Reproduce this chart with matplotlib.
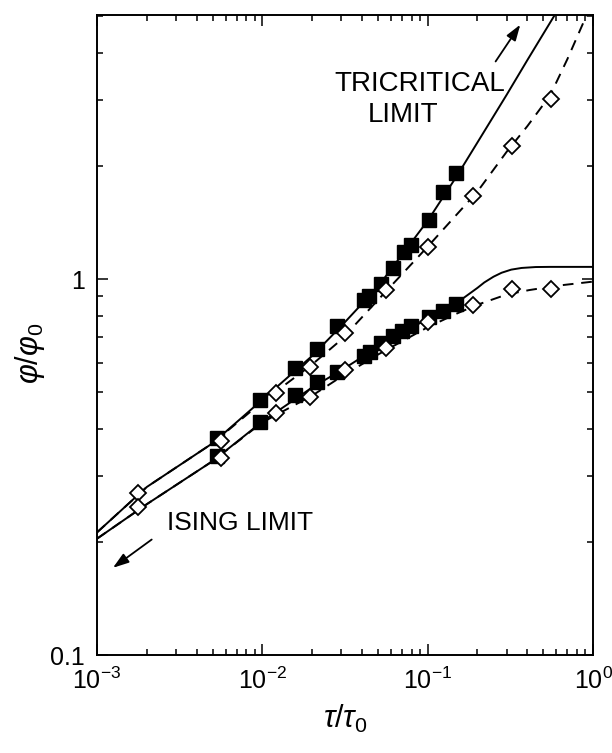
import matplotlib
matplotlib.use("Agg")
import matplotlib.pyplot as plt
from matplotlib.ticker import FixedLocator, NullFormatter, LogLocator

plt.rcParams['font.family'] = ['Liberation Sans', 'DejaVu Sans']
plt.rcParams['mathtext.fontset'] = 'custom'
plt.rcParams['mathtext.rm'] = 'Liberation Sans'
plt.rcParams['mathtext.it'] = 'Liberation Sans:italic'

# filled squares (two branches)
sq_up_x = [0.00535, 0.00973, 0.01567, 0.0214, 0.0282, 0.0414, 0.0440, 0.0523, 0.0614, 0.0720, 0.0793, 0.102, 0.123, 0.149]
sq_up_y = [0.377, 0.477, 0.579, 0.650, 0.751, 0.879, 0.900, 0.970, 1.072, 1.18, 1.23, 1.435, 1.71, 1.91]
sq_lo_x = [0.00535, 0.00973, 0.01567, 0.0214, 0.0282, 0.0414, 0.0450, 0.0523, 0.0614, 0.0700, 0.0793, 0.102, 0.123, 0.149]
sq_lo_y = [0.338, 0.417, 0.491, 0.533, 0.567, 0.624, 0.640, 0.675, 0.705, 0.728, 0.750, 0.794, 0.824, 0.858]

# open diamonds (two branches)
di_x = [0.00176, 0.0056, 0.01216, 0.0193, 0.0314, 0.056, 0.0999, 0.1867, 0.3254, 0.5546]
di_up_y = [0.270, 0.371, 0.498, 0.584, 0.720, 0.935, 1.219, 1.663, 2.258, 3.02]
di_lo_y = [0.248, 0.335, 0.441, 0.486, 0.575, 0.654, 0.770, 0.853, 0.944, 0.939]

# theory curves
sol_up_x = [1e-3, 0.002, 0.005, 0.01, 0.02, 0.03, 0.05, 0.1, 0.15, 0.2, 0.3, 0.4, 0.58]
sol_up_y = [0.212, 0.28, 0.366, 0.478, 0.625, 0.75, 0.955, 1.43, 1.88, 2.31, 3.09, 3.82, 5.0]
sol_lo_x = [1e-3, 0.002, 0.005, 0.01, 0.02, 0.03, 0.05, 0.1, 0.13, 0.15, 0.17, 0.2, 0.22, 0.25, 0.28, 0.32, 0.37, 0.45, 0.55, 1.0]
sol_lo_y = [0.204, 0.252, 0.328, 0.418, 0.515, 0.572, 0.66, 0.785, 0.835, 0.865, 0.9, 0.948, 0.98, 1.015, 1.04, 1.06, 1.071, 1.077, 1.078, 1.078]
das_up_x = [1e-3, 0.002, 0.005, 0.01, 0.02, 0.03, 0.05, 0.1, 0.2, 0.3, 0.4, 0.55, 0.7, 0.87, 1.0]
das_up_y = [0.212, 0.28, 0.366, 0.472, 0.593, 0.69, 0.88, 1.22, 1.71, 2.18, 2.55, 3.08, 3.85, 4.79, 5.6]
das_lo_x = [1e-3, 0.002, 0.005, 0.01, 0.02, 0.03, 0.05, 0.1, 0.15, 0.2, 0.3, 0.41, 0.6, 1.0]
das_lo_y = [0.204, 0.252, 0.328, 0.416, 0.49, 0.55, 0.63, 0.745, 0.81, 0.855, 0.91, 0.935, 0.96, 0.985]

fig = plt.figure(figsize=(6.12, 7.53), dpi=100)
ax = fig.add_axes([0.1585, 0.130, 0.8105, 0.850])

ax.plot(das_up_x, das_up_y, 'k--', lw=1.4, dashes=(5.5, 4))
ax.plot(das_lo_x, das_lo_y, 'k--', lw=1.4, dashes=(5.5, 4))
ax.plot(sol_up_x, sol_up_y, 'k-', lw=1.4)
ax.plot(sol_lo_x, sol_lo_y, 'k-', lw=1.4)

ax.plot(sq_up_x, sq_up_y, 's', color='k', ms=10, ls='none')
ax.plot(sq_lo_x, sq_lo_y, 's', color='k', ms=10, ls='none')
ax.plot(di_x, di_up_y, 'D', mfc='white', mec='k', mew=1.3, ms=8, ls='none')
ax.plot(di_x, di_lo_y, 'D', mfc='white', mec='k', mew=1.3, ms=8, ls='none')

ax.set_xscale('log')
ax.set_yscale('log')
ax.set_xlim(1e-3, 1)
ax.set_ylim(0.1, 5.04)

ax.yaxis.set_major_locator(FixedLocator([0.1, 1]))
ax.set_yticklabels(['0.1', '1'])
ax.yaxis.set_minor_locator(FixedLocator([0.2, 0.3, 0.4, 0.5, 0.6, 0.7, 0.8, 0.9, 2, 3, 4, 5]))
ax.yaxis.set_minor_formatter(NullFormatter())
ax.xaxis.set_minor_locator(LogLocator(base=10, subs=range(2, 10)))
ax.xaxis.set_minor_formatter(NullFormatter())

ax.tick_params(which='both', direction='in', top=True, right=True, width=1.1)
ax.tick_params(which='major', length=8, labelsize=18, pad=9)
ax.tick_params(which='minor', length=4.5)
for s in ax.spines.values():
    s.set_linewidth(1.4)

ax.set_xlabel(r'$\tau/\tau_0$', fontsize=22)
ax.set_ylabel(r'$\varphi/\varphi_0$', fontsize=22)
ax.xaxis.set_label_coords(0.5, -0.075)
ax.yaxis.set_label_coords(-0.10, 0.472)

ax.text(0.089, 3.31, 'TRICRITICAL', fontsize=20, ha='center', va='center')
ax.text(0.0713, 2.73, 'LIMIT', fontsize=20, ha='center', va='center')
ax.text(0.00264, 0.225, 'ISING LIMIT', fontsize=19, ha='left', va='center')

ax.annotate('', xy=(0.371, 4.82), xytext=(0.252, 3.74),
            arrowprops=dict(arrowstyle='-|>,head_length=0.6,head_width=0.2', color='k', lw=1.3, mutation_scale=16))
ax.annotate('', xy=(0.00121, 0.169), xytext=(0.00221, 0.205),
            arrowprops=dict(arrowstyle='-|>,head_length=0.6,head_width=0.2', color='k', lw=1.3, mutation_scale=16))

fig.savefig('out.png', dpi=100)
